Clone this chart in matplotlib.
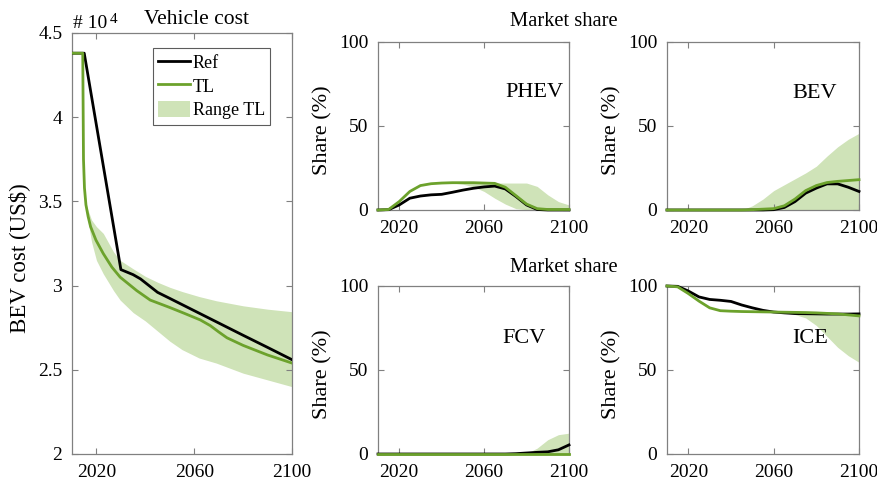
import matplotlib
matplotlib.use("Agg")
import matplotlib.pyplot as plt
from matplotlib.lines import Line2D
from matplotlib.patches import Patch
from matplotlib.ticker import FuncFormatter

plt.rcParams['font.family'] = ['Liberation Serif', 'DejaVu Serif']

# ---------------- BEV vehicle cost (US$) ----------------
cost_ref_years = [2010, 2015, 2030, 2035, 2038, 2045, 2050, 2060, 2070, 2080, 2090, 2100]
cost_ref = [43800, 43800, 30950, 30650, 30400, 29600, 29240, 28510, 27780, 27050, 26330, 25600]

cost_tl_years = [2010, 2014.4, 2014.7, 2015.1, 2015.7, 2016.6, 2017.6, 2019.8, 2022.8, 2026.3,
                 2029.7, 2036.5, 2042, 2050, 2056, 2062.5, 2066.6, 2070, 2073.4, 2080, 2090, 2100]
cost_tl = [43800, 43800, 37500, 35800, 34800, 34100, 33500, 32700, 31900, 31100,
           30500, 29700, 29140, 28700, 28350, 27960, 27620, 27250, 26900, 26450, 25880, 25400]

cost_rng_years = [2010, 2014.4, 2014.7, 2015.1, 2016, 2018, 2020, 2022.8, 2027, 2029.7, 2035,
                  2040, 2045, 2050, 2055, 2062, 2069, 2080, 2090, 2100]
cost_rng_hi = [43800, 43800, 37500, 35800, 34700, 33900, 33500, 33100, 32000, 31500, 31000,
               30550, 30200, 29900, 29650, 29350, 29100, 28800, 28600, 28450]
cost_rng_lo = [43800, 43800, 37500, 35800, 34300, 32600, 31500, 30700, 29700, 29140, 28400,
               27900, 27300, 26700, 26200, 25700, 25400, 24800, 24400, 24000]

# ---------------- Market shares (%) ----------------
share_years = [2010, 2015, 2020, 2025, 2030, 2035, 2040, 2045, 2050, 2055,
               2060, 2065, 2070, 2075, 2080, 2085, 2090, 2095, 2100]

phev_ref = [0, 0.2, 3, 7, 8.3, 9, 9.3, 10.5, 11.8, 12.9, 13.7, 14.2, 12.5, 8, 3, 0.3, 0, 0, 0]
phev_tl = [0, 0.3, 5, 11, 14.5, 15.6, 16, 16.2, 16.2, 16.2, 16, 15.8, 13.5, 8.5, 3.5, 0.8, 0.3, 0.3, 0.3]
phev_hi = [0, 0.3, 5, 11, 14.5, 15.6, 16, 16.2, 16.2, 16.2, 16, 16, 16, 16, 16, 14, 9, 5, 3]
phev_lo = [0, 0.3, 5, 11, 14.5, 15.6, 16, 16, 15.3, 13.8, 11, 7, 3.5, 0.8, 0.2, 0, 0, 0, 0]

bev_ref = [0, 0, 0, 0, 0, 0, 0, 0, 0, 0, 0.2, 1.5, 5, 10, 13, 15.5, 15.5, 13.5, 11]
bev_tl = [0, 0, 0, 0, 0, 0, 0, 0, 0.2, 0.5, 0.8, 2.5, 6.5, 11.5, 14.5, 16.3, 17, 17.5, 18]
bev_hi = [0, 0, 0, 0, 0, 0, 0, 0, 2.5, 6.5, 11.5, 15, 18.5, 22, 26, 32, 37.5, 42, 45.5]
bev_lo = [0, 0, 0, 0, 0, 0, 0, 0, 0, 0, 0, 0, 0, 0, 0, 0, 0, 0, 0]

fcv_ref = [0, 0, 0, 0, 0, 0, 0, 0, 0, 0, 0, 0, 0, 0.2, 0.6, 1, 1.3, 2.5, 5.4]
fcv_tl = [0, 0, 0, 0, 0, 0, 0, 0, 0, 0, 0, 0, 0, 0, 0, 0, 0, 0, 0]
fcv_hi = [0, 0, 0, 0, 0, 0, 0, 0, 0, 0, 0, 0, 0, 0, 0.3, 3.5, 8.5, 11.5, 12.4]
fcv_lo = [0, 0, 0, 0, 0, 0, 0, 0, 0, 0, 0, 0, 0, 0, 0, 0, 0, 0, 0]

ice_ref = [100, 99.8, 97, 93.5, 92, 91.5, 90.8, 88.7, 87, 85.5, 84.5, 84, 83.6, 83.5, 83.4, 83.3, 83.3, 83.3, 83.4]
ice_tl = [100, 99.5, 95.5, 91, 87, 85.3, 85, 84.8, 84.7, 84.6, 84.5, 84.4, 84.3, 84.2, 84, 83.7, 83.4, 82.8, 82.2]
ice_hi = [100, 99.5, 95.5, 91, 87, 85.3, 85, 84.8, 84.7, 84.6, 84.5, 84.4, 84.3, 84.2, 84, 83.7, 83.4, 82.8, 82.2]
ice_lo = [100, 99.5, 95.5, 91, 87, 85.3, 85, 84.8, 84.7, 84.6, 84.5, 84.2, 83, 81, 76.5, 70, 63.5, 58.5, 54.6]

panels = [
    ("PHEV", phev_ref, phev_tl, phev_lo, phev_hi),
    ("BEV", bev_ref, bev_tl, bev_lo, bev_hi),
    ("FCV", fcv_ref, fcv_tl, fcv_lo, fcv_hi),
    ("ICE", ice_ref, ice_tl, ice_lo, ice_hi),
]
panel_label_pos = [(0.82, 0.70), (0.77, 0.69), (0.765, 0.69), (0.745, 0.69)]

x_ticks = [2020, 2060, 2100]

# ---------------- Styling ----------------
C_REF = "#000000"
C_TL = "#6ca22c"
C_RANGE = "#cfe3b8"
C_AXIS = "#808080"
TICK_FS = 14

W, H = 877, 488
fig = plt.figure(figsize=(W / 100, H / 100), dpi=100)


def px_axes(x0, y0, x1, y1):
    return fig.add_axes([x0 / W, 1 - y1 / H, (x1 - x0) / W, (y1 - y0) / H])


def style_axes(ax):
    for s in ax.spines.values():
        s.set_color(C_AXIS)
        s.set_linewidth(0.9)
    ax.tick_params(direction="in", length=4, width=0.8, color=C_AXIS,
                   top=True, right=True, labelsize=TICK_FS, pad=7,
                   labelcolor="black")
    ax.set_xlim(2010, 2100)
    ax.set_xticks(x_ticks)


# ---- Vehicle cost panel ----
ax0 = px_axes(72, 33, 292, 454)
style_axes(ax0)
ax0.fill_between(cost_rng_years, cost_rng_lo, cost_rng_hi, color=C_RANGE, lw=0)
ax0.plot(cost_ref_years, cost_ref, color=C_REF, lw=2.0, zorder=3)
ax0.plot(cost_tl_years, cost_tl, color=C_TL, lw=2.0, zorder=3)
ax0.set_ylim(20000, 45000)
ax0.set_yticks([20000, 25000, 30000, 35000, 40000, 45000])
ax0.yaxis.set_major_formatter(FuncFormatter(lambda v, p: f"{v / 1e4:g}"))
ax0.set_ylabel("BEV cost (US$)", fontsize=16.5)
ax0.yaxis.set_label_coords(-0.19, 0.466)
fig.text(73 / W, 1 - 28 / H, "# 10", fontsize=14, ha="left", va="baseline")
fig.text(110 / W, 1 - 23 / H, "4", fontsize=11, ha="left", va="baseline")
fig.text(196 / W, 1 - 20 / H, "Vehicle cost", fontsize=15.5, ha="center", va="center")

handles = [Line2D([], [], color=C_REF, lw=2.0),
           Line2D([], [], color=C_TL, lw=2.0),
           Patch(facecolor=C_RANGE, edgecolor="none")]
leg = ax0.legend(handles, ["Ref", "TL", "Range TL"], loc="upper left",
                 bbox_to_anchor=(0.368, 0.964), borderaxespad=0, fontsize=13,
                 frameon=True, fancybox=False, handlelength=1.75, handleheight=1.0,
                 handletextpad=0.15, labelspacing=0.3, borderpad=0.3)
leg.get_frame().set_edgecolor("#333333")
leg.get_frame().set_linewidth(0.8)

# ---- Market share panels ----
boxes = [(378, 41.5, 569, 210), (667, 41.5, 859, 210),
         (378, 286, 569, 454), (667, 286, 859, 454)]
for (name, ref, tl, lo, hi), box, lpos in zip(panels, boxes, panel_label_pos):
    ax = px_axes(*box)
    style_axes(ax)
    ax.fill_between(share_years, lo, hi, color=C_RANGE, lw=0)
    ax.plot(share_years, ref, color=C_REF, lw=2.0, clip_on=False, zorder=3)
    ax.plot(share_years, tl, color=C_TL, lw=2.0, clip_on=False, zorder=3)
    ax.set_ylim(0, 100)
    ax.set_yticks([0, 50, 100])
    ax.set_ylabel("Share (%)", fontsize=16)
    ax.yaxis.set_label_coords(-0.238, 0.473)
    ax.text(lpos[0], lpos[1], name, transform=ax.transAxes, fontsize=16,
            ha="center", va="center")

fig.text(564 / W, 1 - 22 / H, "Market share", fontsize=14.8, ha="center", va="center")
fig.text(564 / W, 1 - 268 / H, "Market share", fontsize=14.8, ha="center", va="center")

fig.savefig("out.png", dpi=100)
